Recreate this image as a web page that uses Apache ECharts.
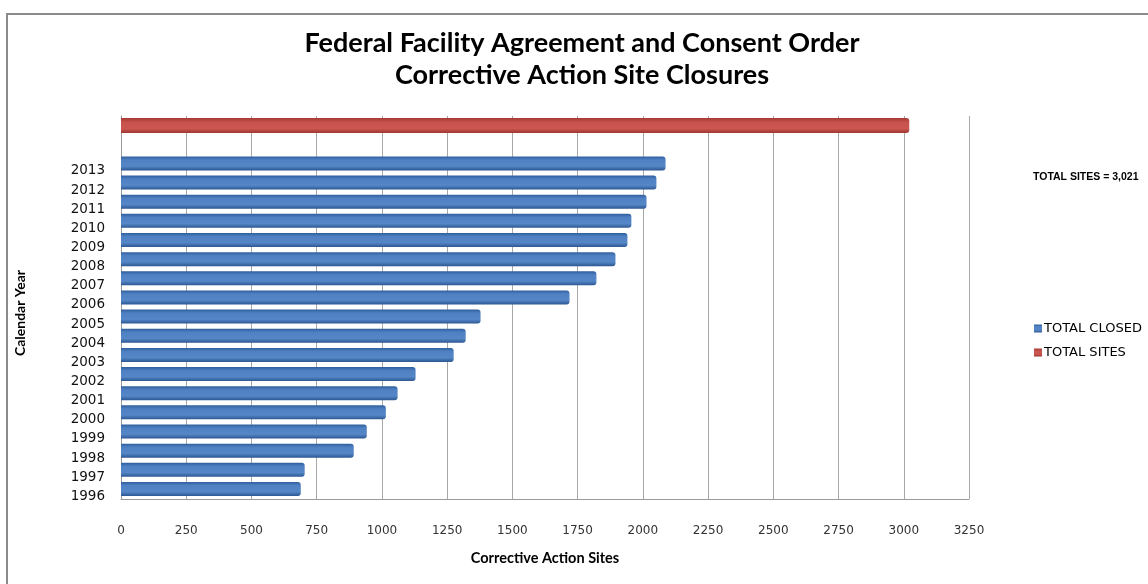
<!DOCTYPE html>
<html>
<head>
<meta charset="utf-8">
<script src="https://cdn.jsdelivr.net/npm/echarts@6/dist/echarts.min.js"></script>
<style>
  html, body { margin: 0; padding: 0; background: #fff; }
  #chart { width: 1148px; height: 584px; }
</style>
</head>
<body>
<div id="chart"></div>
<script>
// categories from bottom to top, two blank rows on top hold the total bar
var years = ['1996', '1997', '1998', '1999', '2000', '2001', '2002', '2003', '2004',
             '2005', '2006', '2007', '2008', '2009', '2010', '2011', '2012', '2013', '', ''];
var totalClosed = [689, 704, 892, 942, 1015, 1060, 1129, 1275, 1321,
                   1378, 1719, 1822, 1895, 1941, 1956, 2014, 2052, 2087, null, null];
var totalSites = [null, null, null, null, null, null, null, null, null,
                  null, null, null, null, null, null, null, null, null, null, 3021];
var xTicks = [0, 250, 500, 750, 1000, 1250, 1500, 1750, 2000, 2250, 2500, 2750, 3000, 3250];

var chart = echarts.init(document.getElementById('chart'));

var blueFill = new echarts.graphic.LinearGradient(0, 0, 0, 1, [
    {offset: 0, color: '#2f5e9c'},
    {offset: 0.25, color: '#4f80c2'},
    {offset: 0.7, color: '#5586c6'},
    {offset: 1, color: '#2c5893'}
]);
var redFill = new echarts.graphic.LinearGradient(0, 0, 0, 1, [
    {offset: 0, color: '#a63a34'},
    {offset: 0.3, color: '#c8524d'},
    {offset: 0.7, color: '#cc5650'},
    {offset: 1, color: '#9e3631'}
]);

var option = {
    backgroundColor: '#fff',
    animation: false,
    title: {
        text: 'Federal Facility Agreement and Consent Order\nCorrective Action Site Closures',
        left: 577,
        top: 22,
        textAlign: 'center',
        textStyle: {
            fontFamily: 'Lato',
            fontWeight: 'bold',
            fontSize: 27,
            lineHeight: 32,
            color: '#000'
        }
    },
    legend: {
        orient: 'vertical',
        left: 1029,
        top: 317,
        itemWidth: 8,
        itemHeight: 8,
        itemGap: 11,
        icon: 'rect',
        data: ['TOTAL CLOSED', 'TOTAL SITES'],
        textStyle: {fontFamily: 'DejaVu Sans', fontSize: 13, color: '#000', padding: [0, 0, 0, -3]}
    },
    grid: {
        left: 121,
        right: 179,
        top: 116,
        bottom: 85,
        containLabel: false
    },
    xAxis: {
        type: 'value',
        min: 0,
        max: 3250,
        interval: 250,
        name: 'Corrective Action Sites',
        nameLocation: 'middle',
        nameGap: 52,
        nameTextStyle: {fontFamily: 'Lato', fontWeight: 'bold', fontSize: 14.5, color: '#000'},
        axisLine: {show: true, lineStyle: {color: '#9a9a9a', width: 1}},
        axisTick: {show: false},
        axisLabel: {
            margin: 26,
            fontFamily: 'DejaVu Sans',
            fontSize: 12,
            color: '#333',
            formatter: function (v) { return xTicks.indexOf(v) >= 0 ? String(v) : ''; }
        },
        splitLine: {show: true, lineStyle: {color: '#a8a8a8', width: 1}}
    },
    yAxis: {
        type: 'category',
        data: years,
        axisLine: {show: true, lineStyle: {color: '#9a9a9a', width: 1}},
        axisTick: {show: false},
        axisLabel: {
            margin: 16,
            verticalAlign: 'top',
            fontFamily: 'DejaVu Sans',
            fontSize: 13.5,
            color: '#111'
        }
    },
    series: [
        {
            name: 'TOTAL CLOSED',
            type: 'bar',
            barWidth: 14,
            barGap: '-100%',
            color: '#4f7fbf',
            itemStyle: {color: blueFill, borderRadius: [0, 3, 3, 0]},
            data: totalClosed
        },
        {
            name: 'TOTAL SITES',
            type: 'bar',
            barWidth: 15,
            color: '#c0504d',
            itemStyle: {color: redFill, borderRadius: [0, 3, 3, 0]},
            data: totalSites
        }
    ],
    graphic: [
        {
            type: 'rect',
            silent: true,
            shape: {x: 7, y: 14, width: 1200, height: 640},
            style: {fill: 'none', stroke: '#8a8a8a', lineWidth: 2}
        },
        {
            type: 'text',
            x: 20,
            y: 313,
            rotation: Math.PI / 2,
            style: {
                text: 'Calendar Year',
                fontFamily: 'Lato',
                fontSize: 14,
                fontWeight: 'bold',
                fill: '#000',
                align: 'center',
                verticalAlign: 'middle'
            }
        },
        {
            type: 'text',
            left: 1033,
            top: 172,
            style: {
                text: 'TOTAL SITES = 3,021',
                fontFamily: 'Liberation Sans',
                fontSize: 10.5,
                fontWeight: 'bold',
                fill: '#000'
            }
        }
    ]
};

chart.setOption(option);
</script>
</body>
</html>
